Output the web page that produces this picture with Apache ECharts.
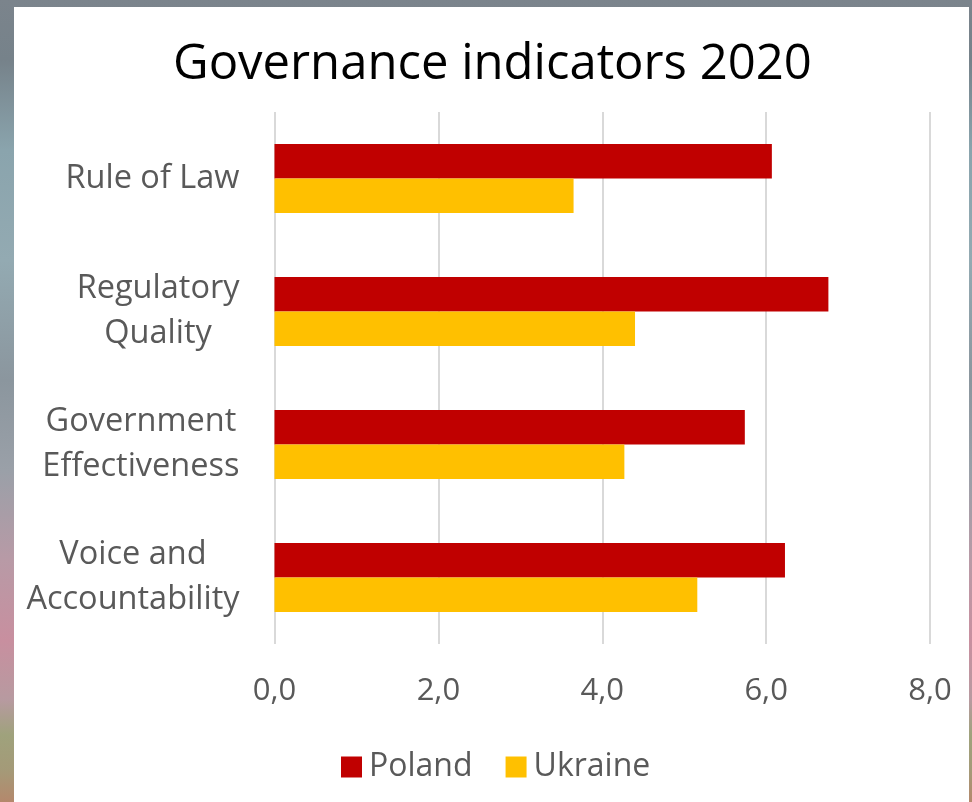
<!DOCTYPE html>
<html>
<head>
<meta charset="utf-8">
<title>Governance indicators 2020</title>
<script src="https://cdn.jsdelivr.net/npm/echarts@6/dist/echarts.min.js"></script>
<style>
  html, body { margin: 0; padding: 0; width: 972px; height: 802px; overflow: hidden; }
  body {
    background:
      linear-gradient(to bottom,
        #7b848c 0px, #76828a 60px, #8aa4ad 150px, #93aab2 260px,
        #8b969e 380px, #9aa0a8 470px, #b89aa6 560px, #c88f9f 640px,
        #b79aa0 700px, #9fa27c 735px, #a49a78 770px, #b4886c 802px);
  }
  #paper {
    position: absolute; left: 14px; top: 7px; width: 955px; height: 795px;
    background: #ffffff;
  }
  #chart { position: absolute; left: 0; top: 0; width: 972px; height: 802px; }
</style>
</head>
<body>
<div id="paper"></div>
<div id="chart"></div>
<script>
// Indicator names, listed from the top row down
const categories = [
  'Rule of Law',
  'Regulatory\nQuality',
  'Government\nEffectiveness',
  'Voice and\nAccountability'
];
const polandValues  = [6.07, 6.76, 5.74, 6.23];
const ukraineValues = [3.65, 4.40, 4.27, 5.16];
const seriesNames = ['Poland', 'Ukraine'];
const axisTicks = [0, 2, 4, 6, 8];

const FONT = '"Open Sans", "Noto Sans", sans-serif';
const GREY = '#595959';

const chart = echarts.init(document.getElementById('chart'), null, { renderer: 'canvas' });

chart.setOption({
  backgroundColor: 'transparent',
  animation: false,
  title: {
    text: 'Governance indicators 2020',
    left: 168,
    top: 36,
    textStyle: { fontFamily: FONT, fontSize: 49, fontWeight: 'normal', color: '#000000' }
  },
  legend: {
    data: seriesNames,
    bottom: 14,
    left: 336,
    icon: 'rect',
    itemWidth: 21,
    itemHeight: 21,
    itemGap: 33,
    textStyle: { fontFamily: FONT, fontSize: 32, color: GREY, padding: [0, 0, 0, 2] }
  },
  grid: { left: 274.5, right: 42, top: 112, bottom: 158, containLabel: false },
  xAxis: {
    type: 'value',
    min: axisTicks[0],
    max: axisTicks[axisTicks.length - 1],
    interval: axisTicks[1] - axisTicks[0],
    axisLine: { show: false },
    axisTick: { show: false },
    splitLine: { show: true, lineStyle: { color: '#d9d9d9', width: 2 } },
    axisLabel: {
      margin: 32,
      fontFamily: FONT,
      fontSize: 31,
      color: GREY,
      formatter: v => v.toFixed(1).replace('.', ',')
    }
  },
  yAxis: {
    type: 'category',
    inverse: true,
    data: categories,
    axisLine: { show: false },
    axisTick: { show: false },
    axisLabel: {
      margin: 35,
      align: 'right',
      formatter: v => v.split('\n').map(s => '{c|' + s + '}').join('\n'),
      rich: {
        c: { align: 'center', fontFamily: FONT, fontSize: 32.5, lineHeight: 45, color: GREY }
      }
    }
  },
  series: [
    {
      name: seriesNames[0],
      type: 'bar',
      data: polandValues,
      barGap: '0%',
      barCategoryGap: '48%',
      itemStyle: { color: '#c00000' }
    },
    {
      name: seriesNames[1],
      type: 'bar',
      data: ukraineValues,
      barGap: '0%',
      barCategoryGap: '48%',
      itemStyle: { color: '#ffc000' }
    }
  ]
});
</script>
</body>
</html>
